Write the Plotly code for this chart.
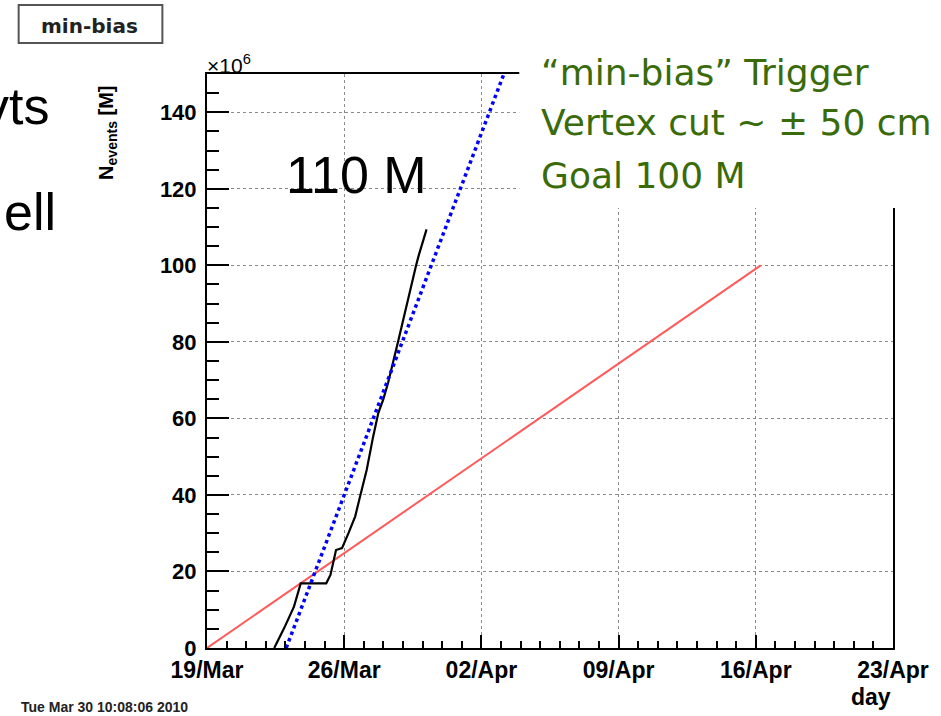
import plotly.graph_objects as go

# ---------------- data ----------------
# accumulated min-bias events (millions) vs time
events_time = [
    "2010-03-22 10:20", "2010-03-22 22:30", "2010-03-23 10:30", "2010-03-23 18:45",
    "2010-03-25 02:00", "2010-03-25 07:10", "2010-03-25 14:00", "2010-03-25 21:20",
    "2010-03-26 05:15", "2010-03-26 13:30", "2010-03-26 19:25", "2010-03-27 03:35",
    "2010-03-27 11:30", "2010-03-27 17:45", "2010-03-27 23:45", "2010-03-28 05:45",
    "2010-03-28 18:00", "2010-03-29 04:50", "2010-03-29 16:05", "2010-03-29 19:00",
    "2010-03-30 04:50",
]
events_millions = [
    0.0, 5.2, 10.8, 16.9,
    16.9, 19.1, 25.6, 26.1,
    30.0, 34.4, 39.6, 46.6,
    55.3, 61.4, 64.9, 69.3,
    80.1, 90.2, 100.0, 102.4,
    109.4,
]
# projected rate (blue dotted)
proj_time = ["2010-03-23 01:00", "2010-04-03 03:30"]
proj_millions = [0.0, 150.0]
# goal line (red)
goal_time = ["2010-03-19 00:00", "2010-04-16 06:00"]
goal_millions = [0.0, 100.0]

x_range = ["2010-03-19", "2010-04-23"]
y_range = [0, 150]

# ---------------- layout geometry ----------------
W, H = 941, 716
L, R, T, B = 207, 42, 74, 68
PW, PH = W - L - R, H - T - B


def px(x):
    return (x - L) / PW


def py(y):
    return (H - B - y) / PH


FONT = "Liberation Sans, Arial, Helvetica, sans-serif"
WIDE = "DejaVu Sans, Verdana, sans-serif"

fig = go.Figure()
fig.add_trace(go.Scatter(x=goal_time, y=goal_millions, mode="lines",
                         line=dict(color="#ff5a5a", width=2), showlegend=False))
fig.add_trace(go.Scatter(x=events_time, y=events_millions, mode="lines",
                         line=dict(color="black", width=2.2), showlegend=False))
fig.add_trace(go.Scatter(x=proj_time, y=proj_millions, mode="lines",
                         line=dict(color="#0000ff", width=3.5, dash="dot"), showlegend=False))

fig.update_layout(
    width=W, height=H,
    margin=dict(l=L, r=R, t=T, b=B, pad=0),
    paper_bgcolor="white", plot_bgcolor="white",
    font=dict(family=FONT, color="black"),
    showlegend=False,
)

fig.update_xaxes(
    type="date", range=x_range, tick0="2010-03-19", dtick=7 * 86400000,
    tickformat="%d/%b", ticks="inside", ticklen=13, tickwidth=1.5, tickcolor="black",
    tickfont=dict(size=23, family=FONT, weight="bold", color="black"),
    showline=True, linecolor="black", linewidth=2, mirror=True,
    showgrid=True, gridcolor="#8a8a8a", griddash="dot", gridwidth=1,
    zeroline=False,
    minor=dict(dtick=86400000, ticks="inside", ticklen=7, tickcolor="black", showgrid=False),
)
fig.update_yaxes(
    range=y_range, dtick=20, ticks="inside", ticklen=22, tickwidth=1.5, tickcolor="black",
    tickfont=dict(size=22, family=FONT, weight="bold", color="black"),
    showline=True, linecolor="black", linewidth=2, mirror=True,
    showgrid=True, gridcolor="#8a8a8a", griddash="dot", gridwidth=1,
    zeroline=False, ticklabelstandoff=4,
    minor=dict(dtick=5, ticks="inside", ticklen=12, tickcolor="black", showgrid=False),
)

shapes = [
    # white area covering top-right of the frame (slide text box)
    dict(type="rect", xref="paper", yref="paper", x0=px(522), x1=px(W + 5),
         y0=py(208), y1=py(-5), fillcolor="white", line=dict(width=0), layer="above"),
    # "min-bias" label box
    dict(type="rect", xref="paper", yref="paper", x0=px(17), x1=px(162),
         y0=py(43), y1=py(5), fillcolor="white", line=dict(color="#555555", width=2),
         layer="above"),
]
fig.update_layout(shapes=shapes)

GREEN = "#3a6b0a"
annotations = [
    dict(text="min-bias", x=px(88), y=py(26), xanchor="center", yanchor="middle",
         font=dict(size=20, family=WIDE, weight="bold", color="#222222")),
    dict(text="×10<sup>6</sup>", x=px(205), y=py(64), xanchor="left", yanchor="middle",
         font=dict(size=21, color="black")),
    dict(text="N<sub>events</sub> [M]", x=px(106), y=py(84), xanchor="center", yanchor="top",
         textangle=-90, font=dict(size=20, weight="bold", color="black")),
    dict(text="110 M", x=px(358), y=py(175), xanchor="center", yanchor="middle",
         font=dict(size=52, color="black")),
    dict(text="“min-bias” Trigger", x=px(542), y=py(72), xanchor="left", yanchor="middle",
         font=dict(size=36, family=WIDE, color=GREEN)),
    dict(text="Vertex cut ~ ± 50 cm", x=px(542), y=py(123), xanchor="left", yanchor="middle",
         font=dict(size=36, family=WIDE, color=GREEN)),
    dict(text="Goal 100 M", x=px(542), y=py(175), xanchor="left", yanchor="middle",
         font=dict(size=36, family=WIDE, color=GREEN)),
    dict(text="vts", x=px(50), y=py(106), xanchor="right", yanchor="middle",
         font=dict(size=52, color="black")),
    dict(text="ell", x=px(0), y=py(212), xanchor="left", yanchor="middle",
         font=dict(size=52, color="black")),
    dict(text="day", x=px(899), y=py(697), xanchor="right", yanchor="middle",
         font=dict(size=23, weight="bold", color="black")),
    dict(text="Tue Mar 30 10:08:06 2010", x=px(17), y=py(707), xanchor="left", yanchor="middle",
         font=dict(size=14, family=FONT, weight="bold", color="#222222")),
]
for a in annotations:
    a.update(xref="paper", yref="paper", showarrow=False)
fig.update_layout(annotations=annotations)

fig.write_html("out.html",
               config={"displayModeBar": False},
               post_script="document.body.style.margin='0';document.body.style.padding='0';")
